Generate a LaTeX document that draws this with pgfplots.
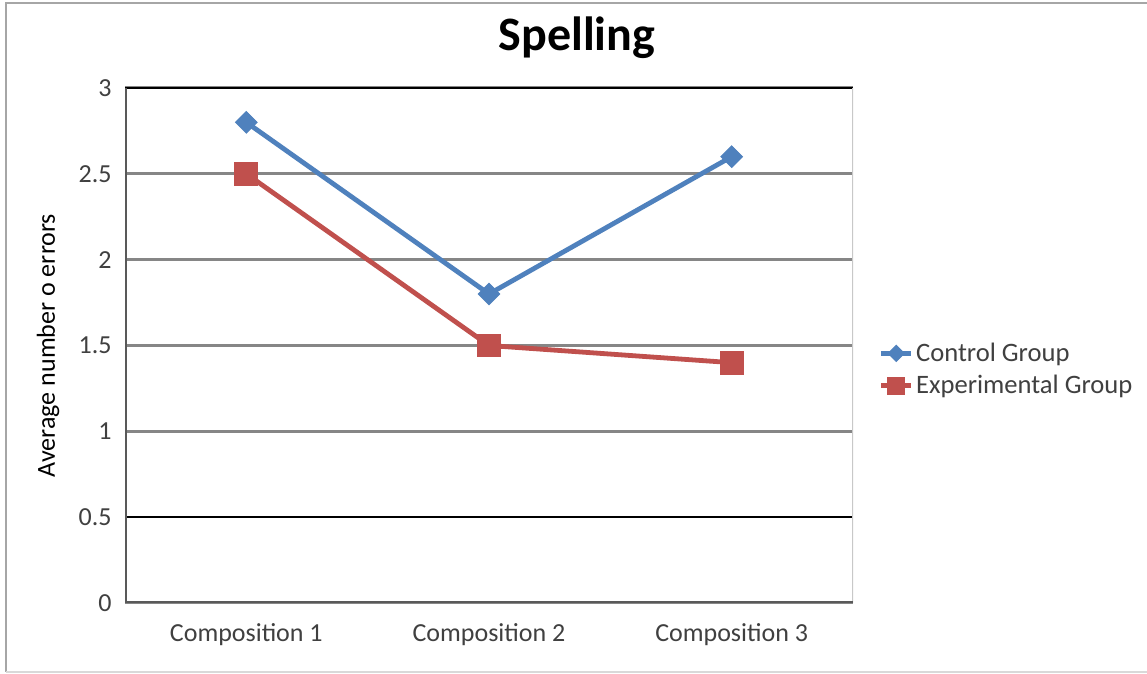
\documentclass[border=0pt]{standalone}
\usepackage{fontspec}
\setmainfont{Carlito}
\usepackage{pgfplots}
\pgfplotsset{compat=1.18}
\definecolor{cblue}{HTML}{4F81BD}
\definecolor{cred}{HTML}{C0504D}
\definecolor{gridgray}{HTML}{868686}
\definecolor{txt}{HTML}{404040}
\definecolor{frameL}{HTML}{A6A6A6}
\definecolor{frameB}{HTML}{D9D9D9}
\definecolor{rightgray}{HTML}{C8C8C8}
\definecolor{axisdark}{HTML}{595959}
\begin{document}
\begin{tikzpicture}
\useasboundingbox (0pt,0pt) rectangle (573.5pt,337pt);
\fill[white] (0pt,0pt) rectangle (573.5pt,337pt);
\draw[frameL, line width=1pt] (573.5pt,335.5pt) -- (3pt,335.5pt) -- (3pt,1pt);
\draw[frameB, line width=1pt] (3pt,1pt) -- (573.5pt,1pt);
\node[font=\fontsize{24}{28}\selectfont\bfseries, text=black] at (288.5pt,318pt) {Spelling};
\begin{axis}[
  at={(62.5pt,35.5pt)}, anchor=south west,
  scale only axis, width=364pt, height=257.5pt,
  xmin=0.5, xmax=3.5, ymin=0, ymax=3,
  xtick={1,2,3},
  xticklabels={Composition 1, Composition 2, Composition 3},
  ytick={0,1,1.5,2,2.5,3},
  extra y ticks={0.5},
  extra y tick style={grid style={black, line width=1pt}},
  ymajorgrids,
  grid style={gridgray, line width=1.5pt},
  major tick length=0pt,
  axis line style={draw=none},
  tick label style={font=\fontsize{13}{15}\selectfont, text=txt},
  /pgf/number format/assume math mode=true,
  yticklabel style={inner sep=0pt, anchor=east, xshift=-6.5pt},
  xticklabel style={inner sep=0pt, anchor=north, yshift=-10pt},
  ylabel={Average number o errors},
  ylabel style={at={(rel axis cs:-0.1058,0.5)}, anchor=center, font=\fontsize{13}{15}\selectfont, text=black},
  legend style={at={(1.035,0.4534)}, anchor=west, draw=none, fill=none, inner sep=0pt,
    font=\fontsize{13.3}{16.5}\selectfont, text=txt, row sep=3pt,
    nodes={inner sep=1.2pt}},
  legend cell align=left,
  legend image code/.code={\draw[mark repeat=2, mark phase=2, every mark/.append style={scale=0.75}] plot coordinates {(0pt,0pt) (7.5pt,0pt) (15pt,0pt)};},
]
\addplot[cblue, line width=2.4pt, mark=square*, mark size=3.8pt, mark options={solid, rotate=45, line width=0.5pt, fill=cblue}]
  coordinates {(1,2.8) (2,1.8) (3,2.6)};
\addlegendentry{Control Group}
\addplot[cred, line width=2.4pt, mark=square*, mark size=5.7pt, mark options={solid, line width=0.5pt, fill=cred}]
  coordinates {(1,2.5) (2,1.5) (3,1.4)};
\addlegendentry{Experimental Group}
\draw[black, line width=1pt] (rel axis cs:0,1) -- (rel axis cs:1,1);
\draw[rightgray, line width=1pt] (rel axis cs:1,0) -- (rel axis cs:1,1);
\draw[axisdark, line width=1.5pt] (rel axis cs:0,1) -- (rel axis cs:0,0) -- (rel axis cs:1,0);
\end{axis}
\end{tikzpicture}
\end{document}
